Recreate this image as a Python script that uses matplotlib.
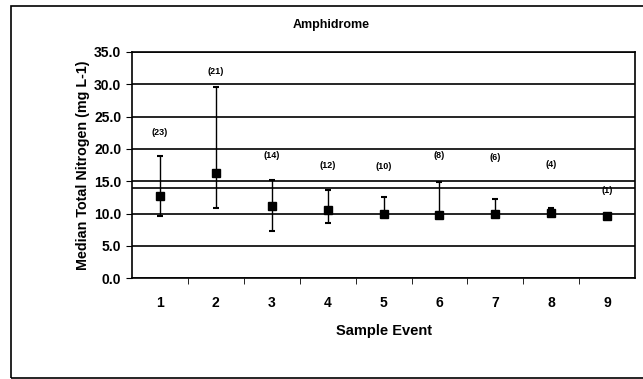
import matplotlib.pyplot as plt
import numpy as np
from matplotlib.patches import Rectangle

plt.rcParams["font.family"] = ["Liberation Sans", "DejaVu Sans"]

events = [1, 2, 3, 4, 5, 6, 7, 8, 9]
median_tn = [12.7, 16.3, 11.1, 10.6, 10.0, 9.8, 9.9, 10.1, 9.6]
upper_tn = [18.9, 29.5, 15.2, 13.7, 12.6, 14.9, 12.2, 10.9, 9.6]
lower_tn = [9.6, 10.8, 7.3, 8.5, 9.8, 9.6, 9.7, 9.8, 9.6]
counts = ["(23)", "(21)", "(14)", "(12)", "(10)", "(8)", "(6)", "(4)", "(1)"]
count_y = [22.6, 31.9, 19.0, 17.5, 17.3, 19.0, 18.6, 17.6, 13.6]
threshold = 14.0

fig = plt.figure(figsize=(6.43, 3.79), dpi=100)
ax = fig.add_axes([0.205, 0.266, 0.783, 0.597])

# outer frame of the chart area (right edge runs off the scan)
fig.patches.append(Rectangle((0.017, 0.003), 1.1, 0.981, transform=fig.transFigure,
                             fill=False, edgecolor="black", linewidth=1.2))

x = np.array(events)
med = np.array(median_tn)
err = [med - np.array(lower_tn), np.array(upper_tn) - med]

for yv in np.arange(0, 36, 5):
    ax.axhline(yv, color="black", linewidth=1.2, zorder=1)
ax.axhline(threshold, color="black", linewidth=1.2, zorder=1)

ax.errorbar(x, med, yerr=err, fmt="s", color="black", markersize=6,
            ecolor="black", elinewidth=1, capsize=2.5, capthick=1.5, zorder=3)

for xi, lab, yl in zip(x, counts, count_y):
    ax.text(xi, yl, lab, ha="center", va="center", fontsize=6.5, fontweight="bold")

ax.set_xlim(0.5, 9.5)
ax.set_ylim(0, 35)
ax.set_yticks(np.arange(0, 36, 5))
ax.set_yticklabels([f"{v:.1f}" for v in np.arange(0, 36, 5)], fontsize=10, fontweight="bold")
ax.set_xticks(x)
ax.set_xticklabels([str(e) for e in events], fontsize=10, fontweight="bold")
ax.set_xticks(np.arange(1.5, 9.5, 1), minor=True)
ax.tick_params(axis="x", which="major", length=0, pad=13)
ax.tick_params(axis="x", which="minor", length=4, direction="out")
ax.tick_params(axis="y", length=4, direction="out")

for s in ax.spines.values():
    s.set_linewidth(1.2)

fig.text(331 / 643, 1 - 25 / 379, "Amphidrome", ha="center", va="center",
         fontsize=9, fontweight="bold")
ax.set_ylabel("Median Total Nitrogen (mg L-1)", fontsize=10.3, fontweight="bold", labelpad=3)
ax.set_xlabel("Sample Event", fontsize=10.5, fontweight="bold", labelpad=10)

fig.savefig("out.png", dpi=100)
